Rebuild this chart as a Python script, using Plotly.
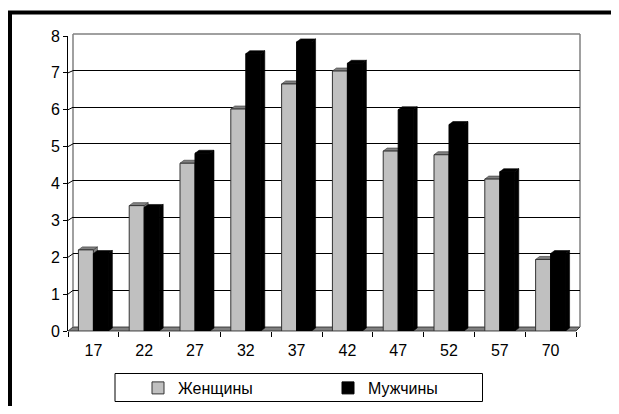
import plotly.graph_objects as go

# ---------------- data ----------------
categories = ["17", "22", "27", "32", "37", "42", "47", "52", "57", "70"]
women = [2.2, 3.4, 4.55, 6.02, 6.7, 7.05, 4.88, 4.78, 4.12, 1.94]
men = [2.1, 3.35, 4.82, 7.52, 7.84, 7.26, 6.0, 5.6, 4.32, 2.1]
y_ticks = [0, 1, 2, 3, 4, 5, 6, 7, 8]
series_names = ["Женщины", "Мужчины"]

# ---------------- layout geometry (page pixels) ----------------
OFF = 8  # page body margin offset
W, H = 619 - 2 * OFF, 414 - 2 * OFF
FONT = "Liberation Sans, Arial, sans-serif"

def px(x):
    return (x - OFF) / W

def py(y):
    return 1 - (y - OFF) / H

F_L, F_R, F_T, F_B = 68, 576, 36, 331      # front plane (bars, axes)
B_L, B_R, B_T, B_B = 73, 580, 34, 327      # back wall
YMAX = y_ticks[-1]
n = len(categories)
idx = list(range(n))
BARGAP = 0.41
half = (1 - BARGAP) / 2
DX = 4 * n / (F_R - F_L)          # depth offset in data units (x)
DY = 3 * YMAX / (F_B - F_T)       # depth offset in data units (y)

fig = go.Figure()

# dummy trace keeps the back-wall subplot alive
fig.add_trace(go.Scatter(x=[], y=[], xaxis="x", yaxis="y", showlegend=False, hoverinfo="skip"))

fig.add_trace(go.Bar(
    x=idx, y=women, name=series_names[0], xaxis="x2", yaxis="y2",
    marker=dict(color="#C0C0C0", line=dict(color="#333333", width=1)),
    hoverinfo="skip",
))
fig.add_trace(go.Bar(
    x=idx, y=men, name=series_names[1], xaxis="x2", yaxis="y2",
    marker=dict(color="#000000", line=dict(color="#000000", width=1)),
    hoverinfo="skip",
))

shapes = []

# outer frame (only top and left edges are inside the picture)
shapes.append(dict(type="path", xref="paper", yref="paper", layer="below",
                   path=f"M{px(10)},{py(420)} L{px(10)},{py(12.5)} L{px(640)},{py(12.5)}",
                   line=dict(color="black", width=4)))

# floor
shapes.append(dict(type="path", xref="paper", yref="paper", layer="below",
                   path=f"M{px(F_L)},{py(F_B)} L{px(F_R)},{py(F_B)} L{px(B_R)},{py(B_B)} L{px(B_L)},{py(B_B)} Z",
                   fillcolor="#808080", line=dict(color="#222222", width=0.8)))

# back wall outline
for (x0, y0, x1, y1) in [(B_L, B_T, B_L, B_B), (B_L, B_T, B_R, B_T), (B_R, B_T, B_R, B_B)]:
    shapes.append(dict(type="line", xref="paper", yref="paper", layer="below",
                       x0=px(x0), y0=py(y0), x1=px(x1), y1=py(y1),
                       line=dict(color="#808080", width=1.5)))

# side-wall connectors from the front ticks to the back gridlines
for t in y_ticks[1:-1]:
    fy = F_B - t * (F_B - F_T) / YMAX
    by = B_B - t * (B_B - B_T) / YMAX
    shapes.append(dict(type="line", xref="paper", yref="paper", layer="below",
                       x0=px(F_L), y0=py(fy), x1=px(B_L), y1=py(by),
                       line=dict(color="#000000", width=1)))

# 3D faces of the bars
def top_path(xl, xr, v):
    return f"M{xl},{v} L{xr},{v} L{xr + DX},{v + DY} L{xl + DX},{v + DY} Z"

def side_path(xr, v):
    return f"M{xr},0 L{xr},{v} L{xr + DX},{v + DY} L{xr + DX},{DY} Z"

for i in idx:
    w, m = women[i], men[i]
    shapes.append(dict(type="path", xref="x2", yref="y2", layer="below",
                       path=side_path(i, w), fillcolor="#808080",
                       line=dict(color="#333333", width=0.6)))
    shapes.append(dict(type="path", xref="x2", yref="y2", layer="below",
                       path=top_path(i - half, i, w), fillcolor="#808080",
                       line=dict(color="#333333", width=0.6)))
    shapes.append(dict(type="path", xref="x2", yref="y2", layer="below",
                       path=side_path(i + half, m), fillcolor="#000000",
                       line=dict(color="#000000", width=0.6)))
    shapes.append(dict(type="path", xref="x2", yref="y2", layer="below",
                       path=top_path(i, i + half, m), fillcolor="#000000",
                       line=dict(color="#000000", width=0.6)))

# legend box
shapes.append(dict(type="rect", xref="paper", yref="paper", layer="below",
                   x0=px(115), x1=px(482.5), y0=py(373.5), y1=py(401.5),
                   line=dict(color="black", width=1), fillcolor="white"))

fig.update_layout(
    width=W, height=H, autosize=False,
    margin=dict(l=0, r=0, t=0, b=0, pad=0, autoexpand=False),
    paper_bgcolor="white", plot_bgcolor="rgba(0,0,0,0)",
    font=dict(family=FONT, size=15, color="black"),
    barmode="group", bargap=BARGAP, bargroupgap=0,
    hovermode=False,
    # back wall
    xaxis=dict(domain=[px(B_L), px(B_R)], range=[0, 1], anchor="y", automargin=False,
               showgrid=False, zeroline=False, showticklabels=False, ticks="", showline=False),
    yaxis=dict(domain=[py(B_B), py(B_T)], range=[0, YMAX], anchor="x", automargin=False,
               tickvals=y_ticks[1:-1], showgrid=True, gridcolor="#000000", gridwidth=1,
               zeroline=False, showticklabels=False, ticks="", showline=False),
    # front
    xaxis2=dict(domain=[px(F_L), px(F_R)], range=[-0.5, n - 0.5], anchor="y2", automargin=False,
                tickmode="array", tickvals=idx, ticktext=categories,
                ticks="outside", ticklen=5, tickcolor="rgba(0,0,0,0)",
                minor=dict(tick0=-0.5, dtick=1, ticks="outside", ticklen=5,
                           tickcolor="#000000", tickwidth=1),
                showgrid=False, zeroline=False, showline=False,
                tickfont=dict(family=FONT, size=16, color="black")),
    yaxis2=dict(domain=[py(F_B), py(F_T)], range=[0, YMAX], anchor="x2", automargin=False,
                tickmode="array", tickvals=y_ticks,
                ticks="outside", ticklen=4, tickcolor="#000000", tickwidth=1,
                showline=True, linecolor="#000000", linewidth=1,
                showgrid=False, zeroline=False,
                tickfont=dict(family=FONT, size=16, color="black")),
    showlegend=True,
    legend=dict(orientation="h", x=px(138), xanchor="left", y=py(388), yanchor="middle",
                bgcolor="rgba(0,0,0,0)", borderwidth=0,
                entrywidth=145, entrywidthmode="pixels",
                font=dict(family=FONT, size=16, color="black"), traceorder="normal"),
    shapes=shapes,
)

fig.write_html("out.html")
